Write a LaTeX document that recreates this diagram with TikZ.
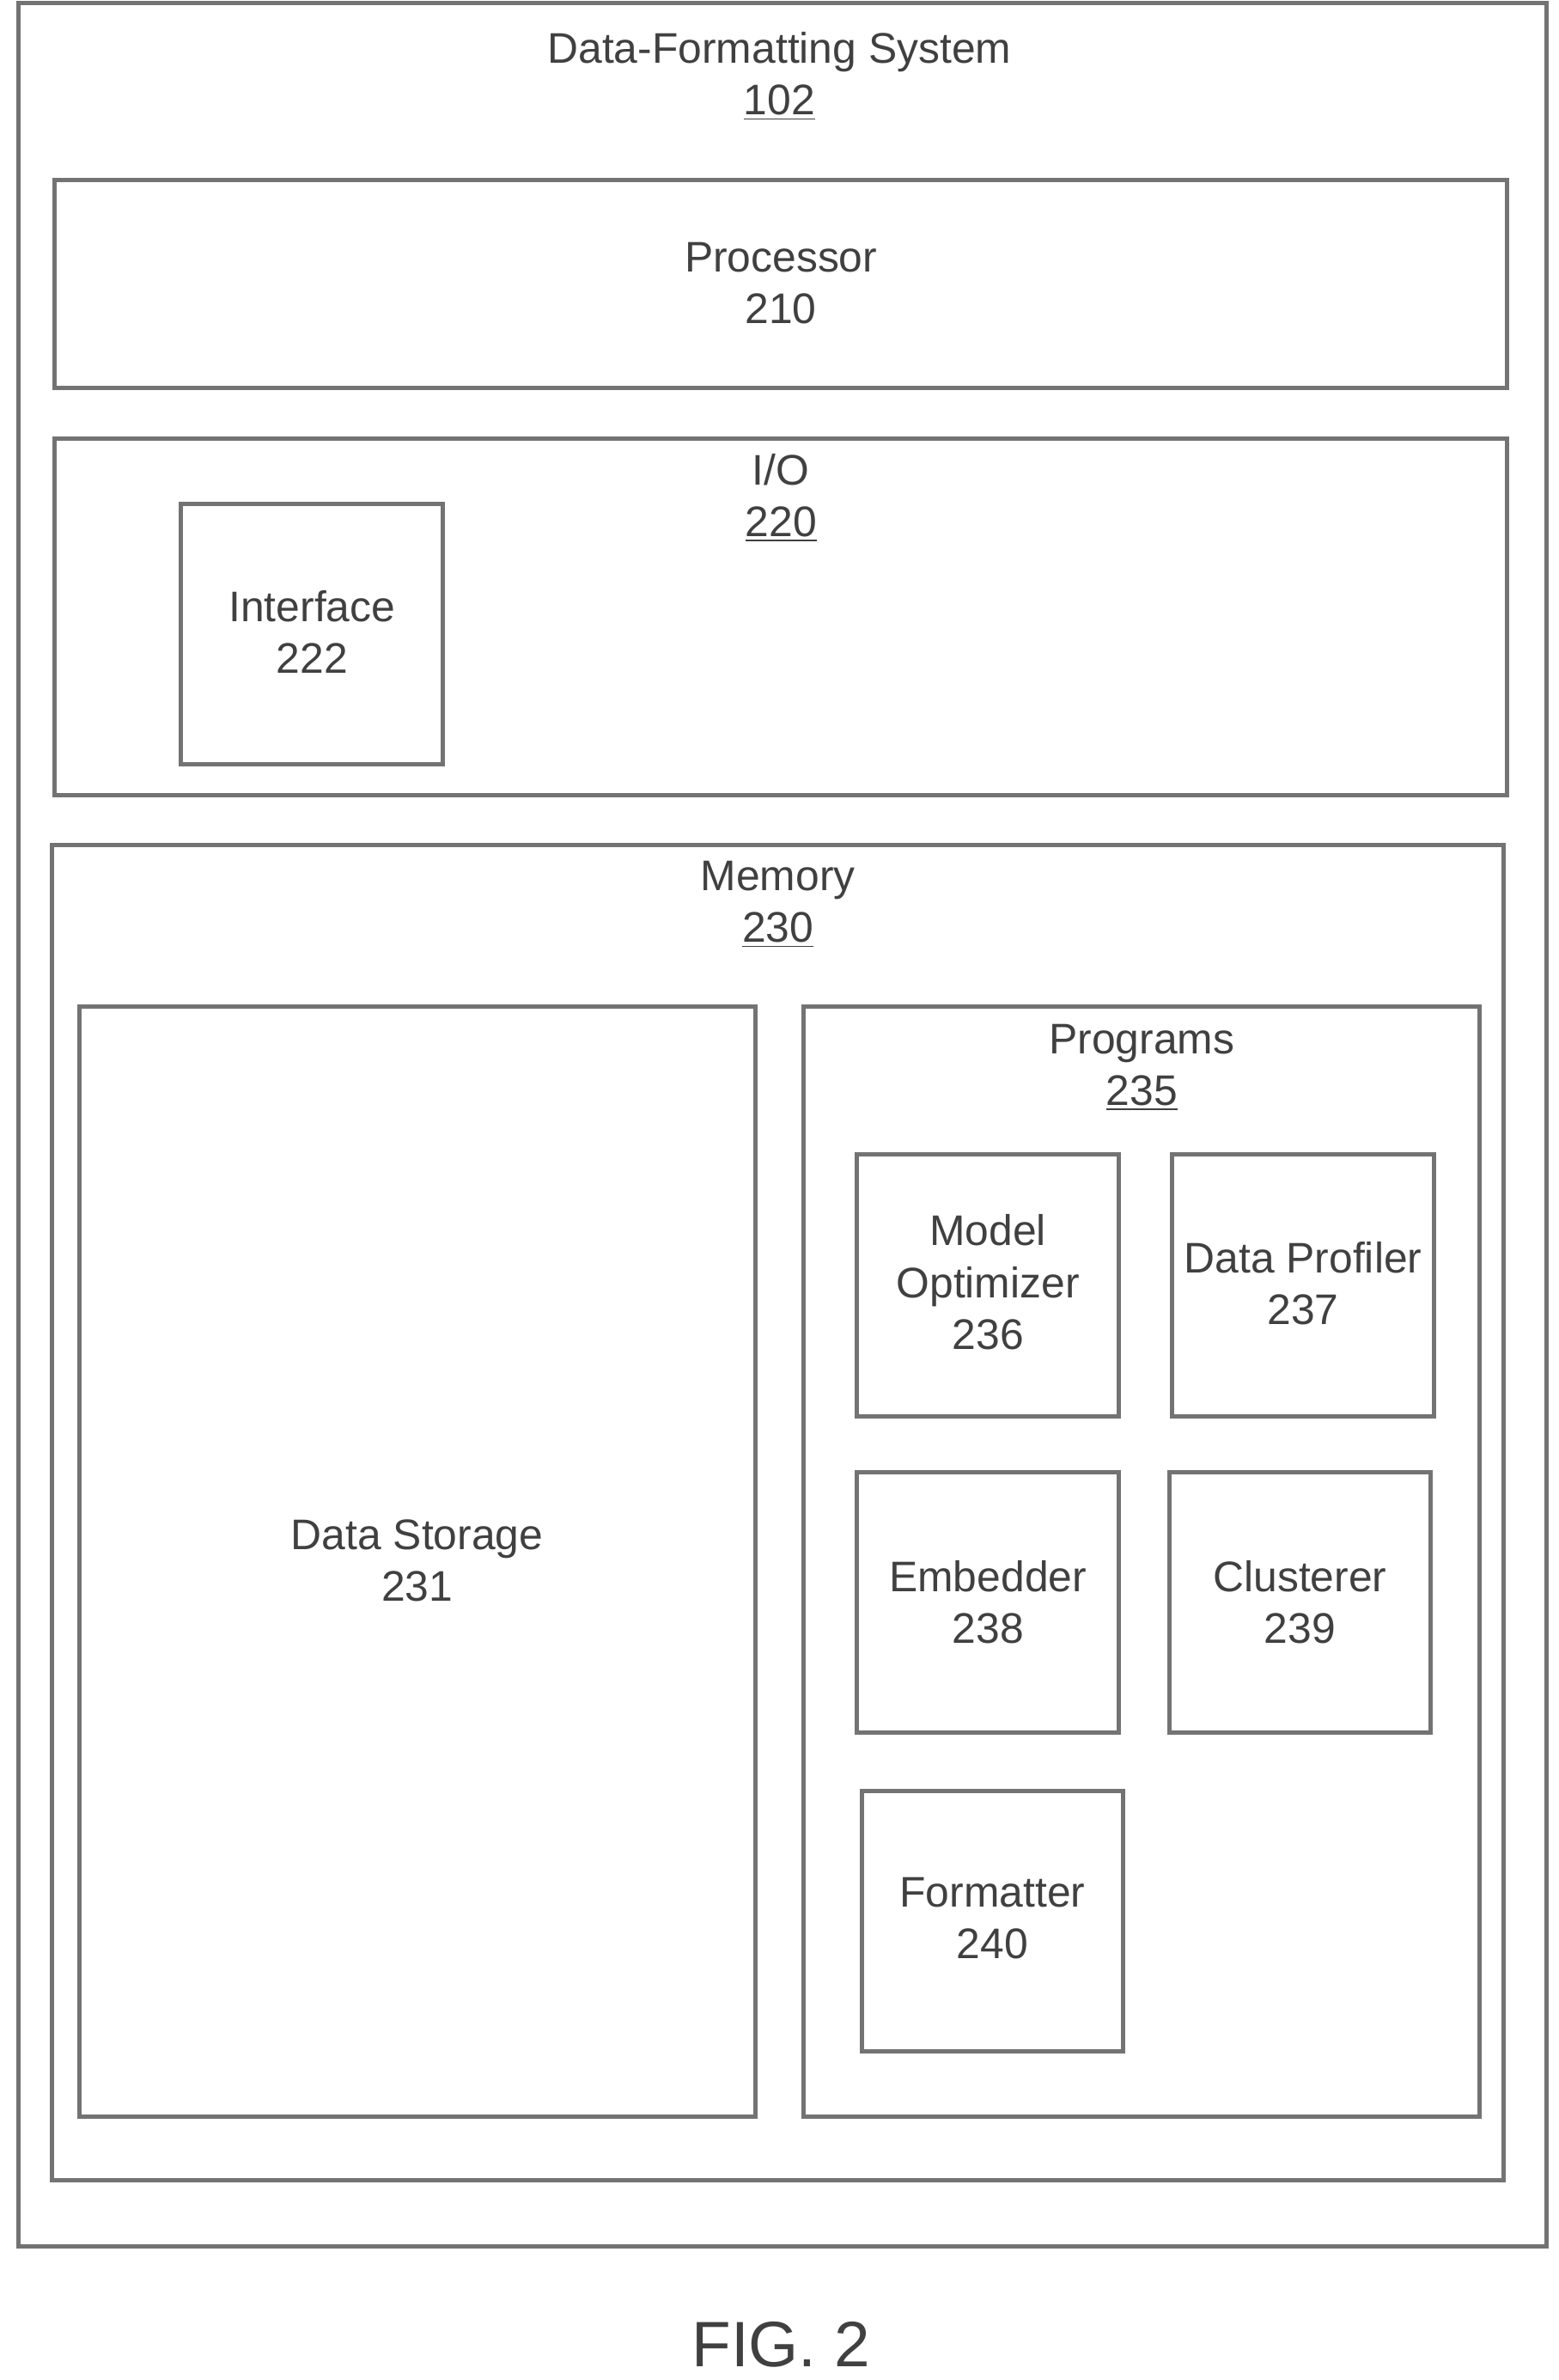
\documentclass[tikz,border=0pt]{standalone}
\usepackage{fontspec}
\setmainfont{Liberation Sans}
\begin{document}
\begin{tikzpicture}[x=0.02cm,y=-0.02cm,
  box/.style={draw=black!55,line width=1.6pt},
  lbl/.style={font=\fontsize{16}{19.3}\selectfont,text=black!75,align=center,inner sep=0pt},
  ul/.style={}]
\useasboundingbox (0,0) rectangle (1024,1563);
\newcommand{\un}[1]{\underline{#1}}
\draw[box] (12,2) rectangle (1016,1475);
\node[lbl] (t102) at (512,50) {Data-Formatting System\\\un{102}};
\draw[box] (36,118) rectangle (990,255);
\node[lbl] (p210) at (513,186) {Processor\\210};
\draw[box] (36,288) rectangle (990,522);
\node[lbl] (io) at (513,327) {I/O\\\un{220}};
\draw[box] (119,331) rectangle (291,502);
\node[lbl] (if) at (205,415) {Interface\\222};
\draw[box] (34,555) rectangle (988,1432);
\node[lbl] (mem) at (511,594) {Memory\\\un{230}};
\draw[box] (52,661) rectangle (496,1390);
\node[lbl] (ds) at (274,1025) {Data Storage\\231};
\draw[box] (528,661) rectangle (972,1390);
\node[lbl] (pr) at (750,701) {Programs\\\un{235}};
\draw[box] (563,758) rectangle (735,930);
\node[lbl] (mo) at (649,842) {Model\\Optimizer\\236};
\draw[box] (770,758) rectangle (942,930);
\node[lbl] (dp) at (856,843) {Data Profiler\\237};
\draw[box] (563,967) rectangle (735,1138);
\node[lbl] (em) at (649,1052) {Embedder\\238};
\draw[box] (768,967) rectangle (940,1138);
\node[lbl] (cl) at (854,1052) {Clusterer\\239};
\draw[box] (566,1176) rectangle (738,1347);
\node[lbl] (fm) at (652,1260) {Formatter\\240};
\node[lbl,font=\fontsize{24}{28}\selectfont] (fig) at (513,1540) {FIG. 2};
\end{tikzpicture}
\end{document}
